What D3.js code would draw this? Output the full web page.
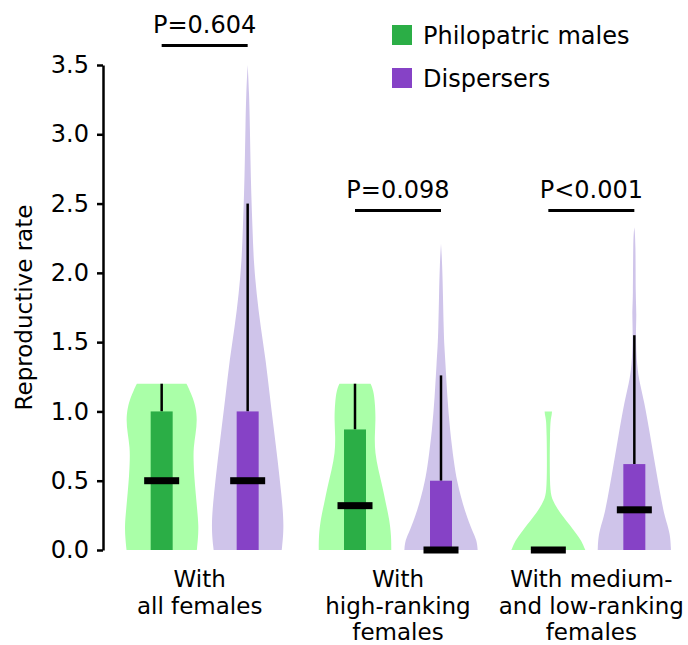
<!DOCTYPE html>
<html>
<head>
<meta charset="utf-8">
<script src="https://cdn.jsdelivr.net/npm/d3@7"></script>
<style>
    body { margin: 0; background: #fff; }
    svg { display: block; font-family: 'DejaVu Sans', Verdana, sans-serif; }
</style>
</head>
<body>
<div id="chart"></div>
<script>
// Groups (x categories) and their multi-line labels
const groups = ['all', 'high', 'low'];
const groupLabels = [
    ['With', 'all females'],
    ['With', 'high-ranking', 'females'],
    ['With medium-', 'and low-ranking', 'females']
];
const seriesKeys = ['philo', 'disp'];
const seriesNames = ['Philopatric males', 'Dispersers'];
const pValues = ['P=0.604', 'P=0.098', 'P<0.001'];
const bracketLevels = [3.64, 2.45, 2.45];
const yTicks = [0, 0.5, 1, 1.5, 2, 2.5, 3, 3.5];

// box summaries per group: [q1, median, q3, upper whisker]
const philoStats = [[0, 0.5, 1.0, 1.2], [0, 0.32, 0.87, 1.2], [0, 0, 0, 0]];
const dispStats = [[0, 0.5, 1.0, 2.5], [0, 0, 0.5, 1.26], [0, 0.29, 0.62, 1.55]];

// violin outlines: [rate, relative density]
const philoDensity = [
    [[0, 0.95], [0.08, 0.98], [0.17, 1.0], [0.29, 0.96], [0.41, 0.92], [0.53, 0.88], [0.65, 0.86],
     [0.74, 0.86], [0.84, 0.92], [0.94, 0.96], [1.03, 0.92], [1.10, 0.84], [1.15, 0.76], [1.2, 0.67]],
    [[0, 0.98], [0.10, 0.98], [0.22, 0.93], [0.34, 0.83], [0.46, 0.74], [0.58, 0.63], [0.70, 0.54],
     [0.82, 0.53], [0.94, 0.56], [1.06, 0.54], [1.15, 0.50], [1.2, 0.42]],
    [[0, 1.0], [0.07, 0.89], [0.12, 0.75], [0.18, 0.58], [0.24, 0.40], [0.30, 0.24], [0.36, 0.11],
     [0.42, 0.05], [0.6, 0.035], [0.85, 0.045], [0.94, 0.06], [0.97, 0.09], [1.0, 0.10]]
];
const dispDensity = [
    [[0, 0.92], [0.17, 0.99], [0.41, 0.91], [0.65, 0.81], [0.89, 0.70], [1.13, 0.59], [1.37, 0.49],
     [1.61, 0.35], [1.85, 0.24], [2.09, 0.16], [2.33, 0.13], [2.58, 0.095], [2.81, 0.076], [3.05, 0.06],
     [3.3, 0.04], [3.5, 0]],
    [[0, 0.99], [0.07, 0.97], [0.14, 0.84], [0.27, 0.66], [0.38, 0.54], [0.50, 0.43], [0.63, 0.35],
     [0.87, 0.24], [1.10, 0.17], [1.35, 0.12], [1.47, 0.09], [1.59, 0.073], [1.83, 0.054], [2.07, 0.032],
     [2.21, 0]],
    [[0, 0.99], [0.12, 0.97], [0.24, 0.82], [0.36, 0.73], [0.60, 0.57], [0.84, 0.42], [1.08, 0.26],
     [1.20, 0.15], [1.32, 0.07], [1.56, 0.035], [1.71, 0.062], [1.80, 0.035], [2.24, 0.035], [2.33, 0]]
];

const colors = {
    philo: { dark: '#2bae46', light: '#aaffa8' },
    disp: { dark: '#8642c6', light: '#cfc4ea' }
};

const width = 688;
const height = 645;
const fontSize = 24;
const labelSize = 23;

const svg = d3.select('#chart')
    .append('svg')
    .attr('width', width)
    .attr('height', height);

const y = d3.scaleLinear().domain([0, 3.5]).range([550, 65]);
const x = d3.scaleBand().domain(groups).range([108, 688]);
const xSub = d3.scaleBand().domain(seriesKeys).range([-86, 86]);
const halfWidth = d3.scaleLinear().domain([0, 1]).range([0, 37]);

const groupCenter = g => x(g) + x.bandwidth() / 2;
const seriesCenter = (g, k) => groupCenter(g) + xSub(k) + xSub.bandwidth() / 2;

// Y axis
const yAxis = svg.append('g')
    .attr('transform', 'translate(103,0)')
    .call(d3.axisLeft(y)
        .tickValues(yTicks)
        .tickFormat(d3.format('.1f'))
        .tickSize(6)
        .tickSizeOuter(0)
        .tickPadding(8));
yAxis.select('.domain').attr('stroke', '#000').attr('stroke-width', 2.5);
yAxis.selectAll('.tick line').attr('stroke', '#000').attr('stroke-width', 2.5);
yAxis.selectAll('.tick text')
    .attr('fill', '#000')
    .style('font-size', fontSize + 'px')
    .style('font-family', "'DejaVu Sans', Verdana, sans-serif");

svg.append('text')
    .attr('transform', `translate(32,${(y(0) + y(3.5)) / 2}) rotate(-90)`)
    .attr('text-anchor', 'middle')
    .style('font-size', labelSize + 'px')
    .text('Reproductive rate');

// Violins, boxes, whiskers, medians
const series = [
    { key: 'philo', stats: philoStats, density: philoDensity },
    { key: 'disp', stats: dispStats, density: dispDensity }
];

series.forEach(s => {
    groups.forEach((g, i) => {
        const cx = seriesCenter(g, s.key);
        const [q1, med, q3, hi] = s.stats[i];

        const area = d3.area()
            .curve(d3.curveBasis)
            .y(d => y(d[0]))
            .x0(d => cx - halfWidth(d[1]))
            .x1(d => cx + halfWidth(d[1]));

        svg.append('path')
            .datum(s.density[i])
            .attr('d', area)
            .attr('fill', colors[s.key].light);

        if (hi > q3) {
            svg.append('line')
                .attr('x1', cx).attr('x2', cx)
                .attr('y1', y(q3)).attr('y2', y(hi))
                .attr('stroke', '#000')
                .attr('stroke-width', 2.5);
        }

        if (q3 > q1) {
            svg.append('rect')
                .attr('x', cx - 11)
                .attr('width', 22)
                .attr('y', y(q3))
                .attr('height', y(q1) - y(q3))
                .attr('fill', colors[s.key].dark);
        }

        svg.append('rect')
            .attr('x', cx - 17.5)
            .attr('width', 35)
            .attr('y', y(med) - 3.5)
            .attr('height', 7)
            .attr('fill', '#000');
    });
});

// Significance brackets
groups.forEach((g, i) => {
    const by = y(bracketLevels[i]);
    svg.append('line')
        .attr('x1', seriesCenter(g, 'philo'))
        .attr('x2', seriesCenter(g, 'disp'))
        .attr('y1', by).attr('y2', by)
        .attr('stroke', '#000')
        .attr('stroke-width', 3);
    svg.append('text')
        .attr('x', groupCenter(g))
        .attr('y', by - 13)
        .attr('text-anchor', 'middle')
        .style('font-size', fontSize + 'px')
        .text(pValues[i]);
});

// Group labels under the plot
groups.forEach((g, i) => {
    const label = svg.append('text')
        .attr('text-anchor', 'middle')
        .style('font-size', labelSize + 'px');
    groupLabels[i].forEach((line, j) => {
        label.append('tspan')
            .attr('x', groupCenter(g) - (i === 0 ? 5 : 0))
            .attr('y', 587 + j * 26.5)
            .text(line);
    });
});

// Legend
const legend = svg.append('g').attr('transform', 'translate(392,25)');
seriesKeys.forEach((k, i) => {
    legend.append('rect')
        .attr('x', 0)
        .attr('y', i * 43)
        .attr('width', 20)
        .attr('height', 20)
        .attr('fill', colors[k].dark);
    legend.append('text')
        .attr('x', 31)
        .attr('y', i * 43 + 19)
        .style('font-size', fontSize + 'px')
        .text(seriesNames[i]);
});
</script>
</body>
</html>
